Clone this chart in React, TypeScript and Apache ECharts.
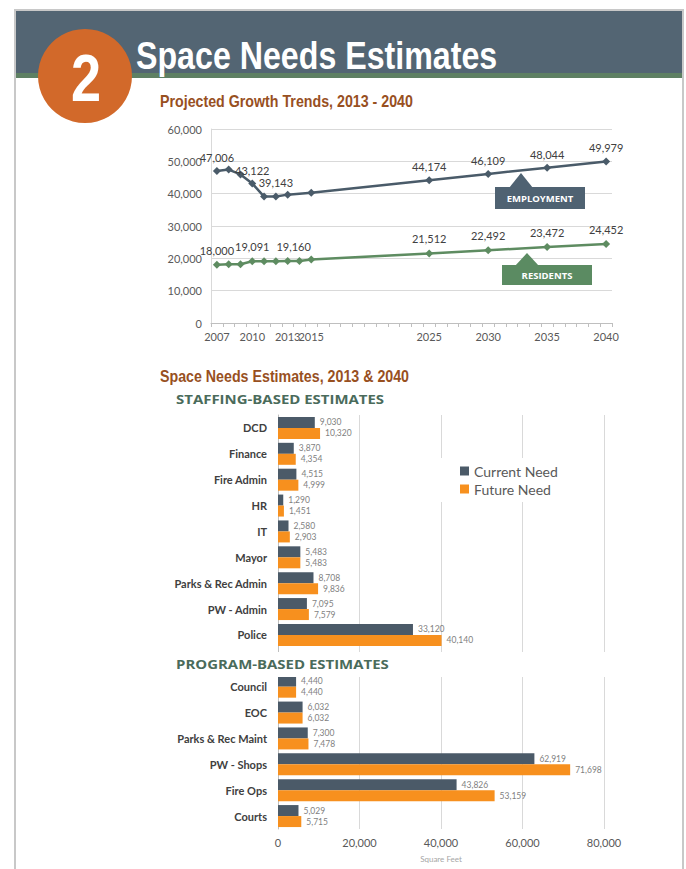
import React, { useEffect, useRef } from "react";
import * as echarts from "echarts";

// ---------- Line chart data ----------
const years = [
  "2007", "2008", "2009", "2010", "2011", "2012", "2013", "2014", "2015", "2016", "2017",
  "2018", "2019", "2020", "2021", "2022", "2023", "2024", "2025", "2026", "2027", "2028",
  "2029", "2030", "2031", "2032", "2033", "2034", "2035", "2036", "2037", "2038", "2039", "2040",
];
const yearTickLabels = ["2007", "2010", "2013", "2015", "2025", "2030", "2035", "2040"];

const employmentYears = ["2007", "2008", "2009", "2010", "2011", "2012", "2013", "2015", "2025", "2030", "2035", "2040"];
const employmentValues = [47006, 47450, 45950, 43122, 39100, 39143, 39700, 40250, 44174, 46109, 48044, 49979];
const employmentLabeled = ["2007", "2010", "2012", "2025", "2030", "2035", "2040"];

const residentYears = ["2007", "2008", "2009", "2010", "2011", "2012", "2013", "2014", "2015", "2025", "2030", "2035", "2040"];
const residentValues = [18000, 18150, 18150, 19091, 19091, 19120, 19160, 19160, 19650, 21512, 22492, 23472, 24452];
const residentLabeled = ["2007", "2010", "2013", "2025", "2030", "2035", "2040"];

const lineTicks = [0, 10000, 20000, 30000, 40000, 50000, 60000];

// ---------- Bar chart data ----------
const staffingCategories = ["DCD", "Finance", "Fire Admin", "HR", "IT", "Mayor", "Parks & Rec Admin", "PW - Admin", "Police"];
const staffingCurrent = [9030, 3870, 4515, 1290, 2580, 5483, 8708, 7095, 33120];
const staffingFuture = [10320, 4354, 4999, 1451, 2903, 5483, 9836, 7579, 40140];

const programCategories = ["Council", "EOC", "Parks & Rec Maint", "PW - Shops", "Fire Ops", "Courts"];
const programCurrent = [4440, 6032, 7300, 62919, 43826, 5029];
const programFuture = [4440, 6032, 7478, 71698, 53159, 5715];

const barTicks = [0, 20000, 40000, 60000, 80000];

const FONT = "Lato, 'Open Sans', sans-serif";
const HEAD = "'Liberation Sans', Arial, sans-serif";

const fmt = (v: number) => Number(v).toLocaleString("en-US");

export default function App() {
  const ref = useRef<HTMLDivElement>(null);

  useEffect(() => {
    const chart = echarts.init(ref.current!, null, { renderer: "svg" });

    const employmentData = employmentYears.map((y, i) => ({
      value: [y, employmentValues[i]],
      label: { show: employmentLabeled.includes(y) },
    }));
    const residentData = residentYears.map((y, i) => ({
      value: [y, residentValues[i]],
      label: {
        show: residentLabeled.includes(y),
        offset: y === "2013" ? [6, 0] : [0, 0],
      },
    }));

    const categories = [...staffingCategories, "", ...programCategories];
    const currentData = [...staffingCurrent, "-", ...programCurrent];
    const futureData = [...staffingFuture, "-", ...programFuture];

    const option: any = {
      animation: false,
      backgroundColor: "#ffffff",
      textStyle: { fontFamily: FONT },
      grid: [
        { left: 211, right: 74, top: 129, bottom: 869 - 323 },
        { left: 278, right: 82, top: 415, bottom: 40 },
      ],
      legend: {
        data: ["Current Need", "Future Need"],
        orient: "vertical",
        left: 437,
        top: 458,
        padding: [6, 34, 6, 23],
        itemGap: 4,
        itemWidth: 9,
        itemHeight: 9,
        icon: "rect",
        backgroundColor: "#ffffff",
        textStyle: { fontSize: 14, color: "#595959", fontFamily: FONT },
        z: 20,
      },
      xAxis: [
        {
          type: "category",
          gridIndex: 0,
          data: years,
          boundaryGap: true,
          axisLine: { lineStyle: { color: "#bfbfbf" } },
          axisTick: { show: true, interval: 0, length: 4, lineStyle: { color: "#bfbfbf" } },
          axisLabel: {
            interval: (_i: number, v: string) => yearTickLabels.includes(v),
            color: "#595959",
            fontSize: 11,
            margin: 8,
            fontFamily: FONT,
          },
        },
        {
          type: "value",
          gridIndex: 1,
          min: barTicks[0],
          max: barTicks[barTicks.length - 1],
          interval: barTicks[1] - barTicks[0],
          axisLine: { show: false },
          axisTick: { show: false },
          splitLine: { lineStyle: { color: "#d9d9d9" } },
          axisLabel: { formatter: fmt, color: "#595959", fontSize: 11, margin: 8, fontFamily: FONT },
          name: "Square Feet",
          nameLocation: "middle",
          nameGap: 26,
          nameTextStyle: { fontSize: 8, color: "#a6a6a6", fontFamily: FONT },
        },
      ],
      yAxis: [
        {
          type: "value",
          gridIndex: 0,
          min: lineTicks[0],
          max: lineTicks[lineTicks.length - 1],
          interval: lineTicks[1] - lineTicks[0],
          axisLine: { show: true, lineStyle: { color: "#d9d9d9" } },
          axisTick: { show: false },
          splitLine: { lineStyle: { color: "#d9d9d9" } },
          axisLabel: { formatter: fmt, color: "#595959", fontSize: 11, margin: 9, fontFamily: FONT },
        },
        {
          type: "category",
          gridIndex: 1,
          inverse: true,
          data: categories,
          axisTick: { show: false },
          axisLine: { lineStyle: { color: "#bfbfbf" } },
          axisLabel: { color: "#404040", fontSize: 11, fontWeight: "bold", margin: 11, fontFamily: FONT },
        },
      ],
      series: [
        {
          name: "Employment",
          type: "line",
          xAxisIndex: 0,
          yAxisIndex: 0,
          data: employmentData,
          symbol: "diamond",
          symbolSize: 8,
          showAllSymbol: true,
          lineStyle: { color: "#4a5b69", width: 2.5 },
          itemStyle: { color: "#4a5b69" },
          label: {
            position: "top",
            distance: 4,
            color: "#404040",
            fontSize: 11,
            fontFamily: FONT,
            formatter: (p: any) => fmt(p.value[1]),
          },
        },
        {
          name: "Residents",
          type: "line",
          xAxisIndex: 0,
          yAxisIndex: 0,
          data: residentData,
          symbol: "diamond",
          symbolSize: 8,
          showAllSymbol: true,
          lineStyle: { color: "#5e8c61", width: 2.5 },
          itemStyle: { color: "#5e8c61" },
          label: {
            position: "top",
            distance: 5,
            color: "#404040",
            fontSize: 11,
            fontFamily: FONT,
            formatter: (p: any) => fmt(p.value[1]),
          },
        },
        {
          name: "Current Need",
          type: "bar",
          xAxisIndex: 1,
          yAxisIndex: 1,
          data: currentData,
          barGap: "0%",
          barCategoryGap: "15%",
          itemStyle: { color: "#4b5a68" },
          label: {
            show: true,
            position: "right",
            distance: 5,
            color: "#7f7f7f",
            fontSize: 8.5,
            fontFamily: FONT,
            formatter: (p: any) => fmt(p.value),
          },
        },
        {
          name: "Future Need",
          type: "bar",
          xAxisIndex: 1,
          yAxisIndex: 1,
          data: futureData,
          barGap: "0%",
          barCategoryGap: "15%",
          itemStyle: { color: "#f7901e" },
          label: {
            show: true,
            position: "right",
            distance: 5,
            color: "#7f7f7f",
            fontSize: 8.5,
            fontFamily: FONT,
            formatter: (p: any) => fmt(p.value),
          },
        },
      ],
      graphic: [
        // frame
        { type: "rect", shape: { x: 14, y: 9, width: 2, height: 860 }, style: { fill: "#c8c8c8" }, z: 1 },
        { type: "rect", shape: { x: 14, y: 9, width: 670, height: 2 }, style: { fill: "#c8c8c8" }, z: 1 },
        { type: "rect", shape: { x: 682, y: 9, width: 2, height: 860 }, style: { fill: "#c8c8c8" }, z: 1 },
        // header band
        { type: "rect", shape: { x: 16, y: 11, width: 666, height: 62 }, style: { fill: "#536573" }, z: 1 },
        { type: "rect", shape: { x: 16, y: 73, width: 666, height: 5 }, style: { fill: "#5e8063" }, z: 1 },
        { type: "circle", shape: { cx: 85, cy: 76, r: 47 }, style: { fill: "#d2692a" }, z: 2 },
        {
          type: "text",
          x: 86,
          y: 78,
          scaleX: 0.82,
          style: {
            text: "2",
            fill: "#ffffff",
            font: `bold 66px ${HEAD}`,
            textAlign: "center",
            textVerticalAlign: "middle",
          },
          z: 3,
        },
        {
          type: "text",
          x: 136,
          y: 56,
          scaleX: 0.825,
          style: {
            text: "Space Needs Estimates",
            fill: "#ffffff",
            font: `bold 39px ${HEAD}`,
            textAlign: "left",
            textVerticalAlign: "middle",
          },
          z: 3,
        },
        {
          type: "text",
          x: 160,
          y: 101,
          scaleX: 0.89,
          style: {
            text: "Projected Growth Trends, 2013 - 2040",
            fill: "#98501f",
            font: `bold 16px ${HEAD}`,
            textAlign: "left",
            textVerticalAlign: "middle",
          },
          z: 3,
        },
        // callouts
        { type: "polygon", shape: { points: [[509, 188], [521, 173], [533, 188]] }, style: { fill: "#4f6272" }, z: 5 },
        { type: "rect", shape: { x: 495, y: 187, width: 90, height: 22 }, style: { fill: "#4f6272" }, z: 5 },
        {
          type: "text",
          x: 540,
          y: 198,
          style: {
            text: "EMPLOYMENT",
            fill: "#ffffff",
            font: `bold 9.5px 'Open Sans', sans-serif`,
            textAlign: "center",
            textVerticalAlign: "middle",
          },
          z: 6,
        },
        { type: "polygon", shape: { points: [[515, 266], [527, 253], [539, 266]] }, style: { fill: "#5b8b62" }, z: 5 },
        { type: "rect", shape: { x: 502, y: 265, width: 90, height: 20 }, style: { fill: "#5b8b62" }, z: 5 },
        {
          type: "text",
          x: 547,
          y: 275,
          style: {
            text: "RESIDENTS",
            fill: "#ffffff",
            font: `bold 9.5px 'Open Sans', sans-serif`,
            textAlign: "center",
            textVerticalAlign: "middle",
          },
          z: 6,
        },
        // bar section headings
        {
          type: "text",
          x: 160,
          y: 376,
          scaleX: 0.89,
          style: {
            text: "Space Needs Estimates, 2013 & 2040",
            fill: "#98501f",
            font: `bold 16px ${HEAD}`,
            textAlign: "left",
            textVerticalAlign: "middle",
          },
          z: 3,
        },
        {
          type: "text",
          x: 176,
          y: 399,
          scaleX: 1.15,
          style: {
            text: "STAFFING-BASED ESTIMATES",
            fill: "#4a6b5b",
            font: `bold 13px 'Open Sans', sans-serif`,
            textAlign: "left",
            textVerticalAlign: "middle",
          },
          z: 3,
        },
        { type: "rect", shape: { x: 160, y: 652, width: 470, height: 25 }, style: { fill: "#ffffff" }, z: 30 },
        {
          type: "text",
          x: 176,
          y: 664,
          scaleX: 1.15,
          style: {
            text: "PROGRAM-BASED ESTIMATES",
            fill: "#4a6b5b",
            font: `bold 13px 'Open Sans', sans-serif`,
            textAlign: "left",
            textVerticalAlign: "middle",
          },
          z: 31,
        },
      ],
    };

    chart.setOption(option);
    return () => chart.dispose();
  }, []);

  return (
    <div
      ref={ref}
      style={{ position: "absolute", left: 0, top: 0, width: 686, height: 869, background: "#ffffff" }}
    />
  );
}
